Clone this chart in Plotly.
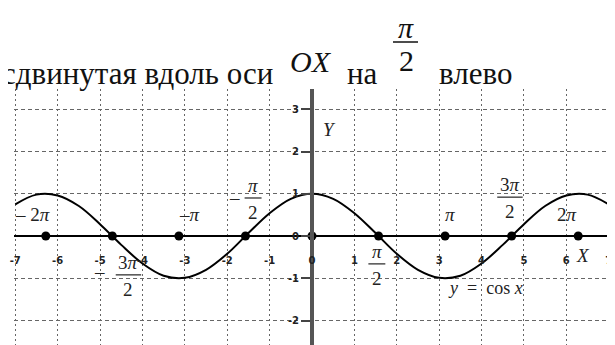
import plotly.graph_objects as go

# curve y = cos x, values every 0.5
curve_x = [-7.0, -6.5, -6.0, -5.5, -5.0, -4.5, -4.0, -3.5, -3.0, -2.5, -2.0, -1.5, -1.0, -0.5,
           0.0, 0.5, 1.0, 1.5, 2.0, 2.5, 3.0, 3.5, 4.0, 4.5, 5.0, 5.5, 6.0, 6.5, 7.0]
curve_y = [0.75, 0.98, 0.96, 0.71, 0.28, -0.21, -0.65, -0.94, -0.99, -0.80, -0.42, 0.07, 0.54, 0.88,
           1.00, 0.88, 0.54, 0.07, -0.42, -0.80, -0.99, -0.94, -0.65, -0.21, 0.28, 0.71, 0.96, 0.98, 0.75]

# marked points on the X axis (multiples of pi/2)
dot_x = [-6.28, -4.71, -3.14, -1.57, 0.0, 1.57, 3.14, 4.71, 6.28]
dot_y = [0, 0, 0, 0, 0, 0, 0, 0, 0]

x_ticks = [-7, -6, -5, -4, -3, -2, -1, 0, 1, 2, 3, 4, 5, 6, 7]
y_ticks = [-2, -1, 0, 1, 2, 3]

X_RANGE = [-7.03, 7.03]
Y_RANGE = [-2.58, 3.48]

# the page body has an 8px margin, so the figure is drawn that much smaller
OFF = 8
W, H = 615 - OFF, 345 - OFF
ML, MR, MT, MB = 14 - OFF, 5, 89 - OFF, 0
PLOT_W = W - ML - MR
PLOT_H = H - MT - MB

SERIF = '"Liberation Serif", serif'
INK = "#222"


def px(xp):
    # page pixel -> paper x
    return (xp - OFF - ML) / PLOT_W


def py(yp):
    # page pixel -> paper y
    return (OFF + H - MB - yp) / PLOT_H


fig = go.Figure()

fig.add_trace(go.Scatter(x=curve_x, y=curve_y, mode="lines",
                         line=dict(color="black", width=2, shape="spline", smoothing=1.0),
                         hoverinfo="skip"))
fig.add_trace(go.Scatter(x=dot_x, y=dot_y, mode="markers",
                         marker=dict(color="black", size=9), hoverinfo="skip"))

annotations = []
shapes = []


def label(text, x, y, size=19, ref="x", anchor="center", color=INK):
    annotations.append(dict(x=x, y=y, xref=ref if ref == "x" else "paper",
                            yref="y" if ref == "x" else "paper",
                            xanchor=anchor, yanchor="middle", text=text, showarrow=False,
                            font=dict(family=SERIF, size=size, color=color)))


# plain labels on the graph
labels = [
    ("\u2013 2<i>\u03c0</i>", -6.60, 0.50),
    ("\u2013<i>\u03c0</i>", -2.88, 0.50),
    ("<i>\u03c0</i>", 3.25, 0.50),
    ("2<i>\u03c0</i>", 6.01, 0.50),
    ("<i>X</i>", 6.39, -0.45),
    ("<i>Y</i>", 0.42, 2.51),
    ("\u2013", -1.82, 0.92),
    ("\u2013", -5.02, -0.85),
]
for text, lx, ly in labels:
    label(text, lx, ly)

nb = "\u00a0"
label(f"<i>y</i>{nb}{nb}={nb}{nb}cos{nb}<i>x</i>", 4.09, -1.23, size=18)

# fractions: numerator, denominator, centre x, bar y, half width of the bar
fractions = [
    ("<i>\u03c0</i>", "2", -1.39, 0.90, 0.2),
    ("3<i>\u03c0</i>", "2", 4.67, 0.92, 0.3),
    ("3<i>\u03c0</i>", "2", -4.33, -0.92, 0.3),
    ("<i>\u03c0</i>", "2", 1.53, -0.66, 0.2),
]
for num, den, fx, fy, hw in fractions:
    label(num, fx, fy + 0.30)
    label(den, fx, fy - 0.34)
    shapes.append(dict(type="line", xref="x", yref="y", x0=fx - hw, x1=fx + hw, y0=fy, y1=fy,
                       line=dict(color=INK, width=1.2)))

# heading above the plot
label("сдвинутая вдоль оси", px(0), py(73), size=31, ref="paper", anchor="left", color="#111")
label("<i>OX</i>", px(311), py(61), size=30, ref="paper", color="#111")
label("на", px(362), py(73), size=31, ref="paper", color="#111")
label("<i>\u03c0</i>", px(406), py(27), size=30, ref="paper", color="#111")
label("2", px(406), py(60), size=30, ref="paper", color="#111")
label("влево", px(437), py(73), size=31, ref="paper", anchor="left", color="#111")
shapes.append(dict(type="line", xref="paper", yref="paper", x0=px(393), x1=px(418),
                   y0=py(42), y1=py(42), line=dict(color="#111", width=1.5)))

tick_font = dict(family="DejaVu Sans", size=10, color="#222", weight="bold")

fig.update_layout(
    width=W, height=H,
    margin=dict(l=ML, r=MR, t=MT, b=MB),
    paper_bgcolor="white", plot_bgcolor="white",
    showlegend=False,
    annotations=annotations,
    shapes=shapes,
    xaxis=dict(range=X_RANGE, tickvals=x_ticks, ticktext=[str(v) for v in x_ticks],
               showgrid=True, gridcolor="#666", gridwidth=1, griddash="2px,3px",
               zeroline=False, showline=True, linecolor="black", linewidth=2,
               anchor="free", position=(0 - Y_RANGE[0]) / (Y_RANGE[1] - Y_RANGE[0]),
               ticks="outside", ticklen=15, tickcolor="rgba(0,0,0,0)",
               tickfont=tick_font, fixedrange=True),
    yaxis=dict(range=Y_RANGE, tickvals=y_ticks, ticktext=[str(v) for v in y_ticks],
               showgrid=True, gridcolor="#666", gridwidth=1, griddash="4px,3px",
               zeroline=False, showline=True, linecolor="#555", linewidth=4,
               anchor="free", position=(0 - X_RANGE[0]) / (X_RANGE[1] - X_RANGE[0]),
               ticks="outside", ticklen=9, tickcolor="#444", tickwidth=1.5,
               tickfont=tick_font, fixedrange=True),
)

fig.write_html("out.html")
